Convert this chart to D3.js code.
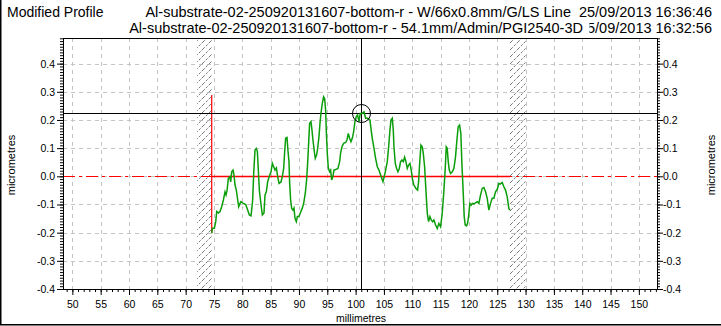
<!DOCTYPE html>
<html lang="en">
<head>
<meta charset="UTF-8">
<title>Modified Profile</title>
<style>
  body { margin: 0; background: #fff; overflow: hidden; }
  svg { display: block; font-family: Arial, "Liberation Sans", sans-serif; }
</style>
</head>
<body>
<svg id="chart" width="721" height="326"></svg>
<script src="https://d3js.org/d3.v7.min.js"></script>
<script>
// profile: [millimetres, micrometres]
const profile = [
  [74.60, -0.202], [74.72, -0.184], [75.07, -0.184], [75.31, -0.161], [75.48, -0.125],
  [75.78, -0.130], [76.07, -0.125], [76.36, -0.108], [76.66, -0.084], [76.95, -0.055],
  [77.13, -0.066], [77.31, -0.050], [77.54, -0.007], [77.78, -0.002], [77.95, -0.020],
  [78.13, 0.016], [78.36, 0.022], [78.54, 0.004], [78.72, -0.031], [78.95, -0.050],
  [79.19, -0.084], [79.36, -0.108], [79.60, -0.096], [79.77, -0.090], [80.18, -0.096],
  [80.60, -0.100], [80.95, -0.120], [81.24, -0.137], [81.54, -0.140], [81.83, -0.084],
  [82.01, 0.010], [82.24, 0.093], [82.48, 0.099], [82.66, 0.088], [82.83, 0.022],
  [83.01, -0.050], [83.30, -0.100], [83.54, -0.137], [83.83, -0.130], [84.01, -0.066],
  [84.24, -0.055], [84.48, -0.019], [84.77, 0.000], [85.07, 0.016], [85.30, 0.046],
  [85.54, 0.034], [85.78, 0.022], [86.01, 0.030], [86.24, 0.000], [86.48, -0.025],
  [86.83, -0.020], [87.07, 0.000], [87.30, 0.028], [87.48, 0.088], [87.65, 0.135],
  [87.89, 0.138], [88.06, 0.091], [88.24, 0.052], [88.36, -0.025], [88.53, -0.084],
  [88.71, -0.113], [88.94, -0.120], [89.12, -0.113], [89.30, -0.149], [89.53, -0.161],
  [89.71, -0.143], [90.00, -0.143], [90.24, -0.130], [90.59, -0.113], [90.83, -0.096],
  [91.12, -0.060], [91.35, -0.013], [91.53, 0.046], [91.71, 0.117], [91.88, 0.188],
  [92.12, 0.194], [92.30, 0.164], [92.47, 0.129], [92.71, 0.088], [92.88, 0.064],
  [93.12, 0.076], [93.30, 0.099], [93.53, 0.140], [93.71, 0.188], [93.88, 0.223],
  [94.12, 0.259], [94.35, 0.282], [94.53, 0.276], [94.71, 0.235], [94.82, 0.164],
  [95.00, 0.082], [95.18, 0.030], [95.41, 0.016], [95.59, 0.022], [95.77, -0.013],
  [96.00, 0.000], [96.18, 0.022], [96.47, 0.024], [96.88, 0.028], [97.18, 0.052],
  [97.35, 0.082], [97.59, 0.105], [97.88, 0.117], [98.24, 0.120], [98.47, 0.129],
  [98.71, 0.152], [98.94, 0.135], [99.18, 0.123], [99.41, 0.135], [99.65, 0.158],
  [99.88, 0.194], [100.12, 0.212], [100.35, 0.218], [100.59, 0.194], [100.82, 0.223],
  [101.12, 0.223], [101.47, 0.229], [101.77, 0.206], [102.12, 0.206], [102.53, 0.200],
  [102.71, 0.170], [102.94, 0.135], [103.24, 0.100], [103.53, 0.064], [103.83, 0.034],
  [104.12, 0.022], [104.41, 0.005], [104.83, -0.019], [105.06, 0.000], [105.30, 0.022],
  [105.59, 0.052], [105.83, 0.105], [106.06, 0.164], [106.24, 0.200], [106.47, 0.206],
  [106.65, 0.164], [106.77, 0.105], [107.00, 0.046], [107.24, 0.028], [107.47, 0.016],
  [107.71, 0.028], [107.94, 0.052], [108.18, 0.058], [108.41, 0.052], [108.65, 0.068],
  [108.88, 0.052], [109.12, 0.028], [109.35, 0.040], [109.59, 0.046], [109.82, 0.022],
  [110.06, -0.013], [110.29, -0.031], [110.65, -0.043], [110.94, -0.049], [111.12, -0.019],
  [111.29, 0.040], [111.53, 0.111], [111.76, 0.105], [111.94, 0.082], [112.18, 0.034],
  [112.41, -0.049], [112.65, -0.131], [112.88, -0.161], [113.12, -0.143], [113.35, -0.155],
  [113.59, -0.161], [113.82, -0.155], [114.12, -0.173], [114.41, -0.185], [114.70, -0.167],
  [115.00, -0.179], [115.29, -0.131], [115.59, -0.049], [115.82, 0.028], [116.00, 0.105],
  [116.17, 0.100], [116.35, 0.052], [116.53, 0.022], [116.76, 0.010], [117.06, 0.016],
  [117.35, 0.028], [117.64, 0.070], [117.88, 0.129], [118.11, 0.176], [118.35, 0.182],
  [118.58, 0.152], [118.76, 0.046], [119.00, -0.060], [119.17, -0.143], [119.35, -0.173],
  [119.58, -0.176], [119.76, -0.167], [119.94, -0.143], [120.17, -0.096], [120.41, -0.102],
  [120.64, -0.096], [120.88, -0.098], [121.17, -0.094], [121.47, -0.090], [121.76, -0.096],
  [122.05, -0.067], [122.35, -0.043], [122.64, -0.040], [122.94, -0.055], [123.23, -0.078],
  [123.52, -0.120], [123.82, -0.096], [124.11, -0.078], [124.41, -0.078], [124.70, -0.055],
  [124.99, -0.047], [125.29, -0.025], [125.58, -0.027], [125.88, -0.022], [126.17, -0.037],
  [126.46, -0.049], [126.76, -0.073], [127.05, -0.114], [127.23, -0.120]
];

const xTicks = [50, 55, 60, 65, 70, 75, 80, 85, 90, 95, 100, 105, 110, 115, 120, 125, 130, 135, 140, 145, 150];
const yTicks = [-0.4, -0.3, -0.2, -0.1, 0.0, 0.1, 0.2, 0.3, 0.4];
const excludedZones = [[72.0, 74.6], [127.2, 130.0]];
const cursor = [100.94, 0.224];

const titleText = "Modified Profile";
const headerLines = [
  { label: "Al-substrate-02-250920131607-bottom-r - W/66x0.8mm/G/LS Line", stamp: "25/09/2013 16:36:46", shift: -8, cover: false },
  { label: "Al-substrate-02-250920131607-bottom-r - 54.1mm/Admin/PGI2540-3D", stamp: "25/09/2013 16:32:56", shift: 4, cover: true }
];
const xTitle = "millimetres";
const yTitle = "micrometres";

const svg = d3.select("#chart");
const W = 721, H = 326;
const plot = { left: 63, right: 657, top: 38, bottom: 289 };
const font = "Arial, 'Liberation Sans', sans-serif";

const x = d3.scaleLinear().domain([48.35, 153.2]).range([plot.left, plot.right]);
const y = d3.scaleLinear().domain([-0.4, 0.491]).range([plot.bottom, plot.top]);

// outer frame: left and bottom edges
svg.append("path")
  .attr("d", `M0.75,0 V${H - 1.25} H${W}`)
  .attr("fill", "none").attr("stroke", "#000").attr("stroke-width", 1.5);

// hatch pattern for excluded zones
const defs = svg.append("defs");
const pat = defs.append("pattern")
  .attr("id", "hatch").attr("patternUnits", "userSpaceOnUse")
  .attr("width", 7).attr("height", 7);
pat.append("path")
  .attr("d", "M-1,1 l2,-2 M0,7 l7,-7 M6,8 l2,-2")
  .attr("stroke", "#777").attr("stroke-width", 1)
  .attr("stroke-dasharray", "2.5,1.5");

// grid
const grid = svg.append("g").attr("stroke", "#c4c4c4").attr("stroke-dasharray", "4,4");
grid.selectAll("line.gx").data(xTicks).join("line")
  .attr("x1", d => Math.round(x(d)) + 0.5).attr("x2", d => Math.round(x(d)) + 0.5)
  .attr("y1", plot.top).attr("y2", plot.bottom);
grid.selectAll("line.gy").data(yTicks).join("line")
  .attr("y1", d => Math.round(y(d)) + 0.5).attr("y2", d => Math.round(y(d)) + 0.5)
  .attr("x1", plot.left).attr("x2", plot.right);

// excluded zones
svg.append("g").selectAll("rect").data(excludedZones).join("rect")
  .attr("x", d => x(d[0])).attr("width", d => x(d[1]) - x(d[0]))
  .attr("y", plot.top).attr("height", plot.bottom - plot.top)
  .attr("fill", "url(#hatch)");

// zero reference line
const xStart = profile[0][0], xEnd = profile[profile.length - 1][0];
const y0 = Math.round(y(0)) + 0.5;
svg.append("line")
  .attr("x1", plot.left).attr("x2", plot.right).attr("y1", y0).attr("y2", y0)
  .attr("stroke", "red").attr("stroke-width", 1.2).attr("stroke-dasharray", "12,4,3,4");
svg.append("line")
  .attr("x1", x(xStart)).attr("x2", x(xEnd)).attr("y1", y0).attr("y2", y0)
  .attr("stroke", "red").attr("stroke-width", 1.5);

// range marker at the profile start
const [yMin, yMax] = d3.extent(profile, d => d[1]);
svg.append("line")
  .attr("x1", x(xStart)).attr("x2", x(xStart))
  .attr("y1", y(yMax) - 2).attr("y2", y(yMin))
  .attr("stroke", "red").attr("stroke-width", 1.2);

// cursor cross
const cx = Math.round(x(cursor[0])) + 0.5, cy = Math.round(y(cursor[1])) + 0.5;
svg.append("line").attr("x1", plot.left).attr("x2", plot.right).attr("y1", cy).attr("y2", cy)
  .attr("stroke", "#000");
svg.append("line").attr("x1", cx).attr("x2", cx).attr("y1", plot.top).attr("y2", plot.bottom)
  .attr("stroke", "#000");

// profile
const line = d3.line().x(d => x(d[0])).y(d => y(d[1]));
svg.append("path").datum(profile)
  .attr("d", line)
  .attr("fill", "none").attr("stroke", "#0a9e0a").attr("stroke-width", 1.5)
  .attr("stroke-linejoin", "miter");

svg.append("circle").attr("cx", cx).attr("cy", cy).attr("r", 9)
  .attr("fill", "none").attr("stroke", "#000");

// plot frame
svg.append("rect")
  .attr("x", plot.left + 0.5).attr("y", plot.top + 0.5)
  .attr("width", plot.right - plot.left).attr("height", plot.bottom - plot.top)
  .attr("fill", "none").attr("stroke", "#000");

// axes
const fmt = d => d.toFixed(1);
const xMinor = d3.range(49, 154);
const yMinor = d3.range(-40, 50).map(i => i / 100);

function styleAxis(g) {
  g.select(".domain").remove();
  g.attr("font-family", font).attr("font-size", 10.5);
  g.selectAll("text").attr("fill", "#000");
}

svg.append("g").attr("transform", `translate(0,${plot.bottom})`)
  .call(d3.axisBottom(x).tickValues(xMinor).tickSize(3).tickFormat(""))
  .call(styleAxis);
svg.append("g").attr("transform", `translate(0,${plot.bottom})`)
  .call(d3.axisBottom(x).tickValues(xTicks).tickSize(6).tickPadding(6).tickFormat(d3.format("d")))
  .call(styleAxis);

svg.append("g").attr("transform", `translate(${plot.left},0)`)
  .call(d3.axisLeft(y).tickValues(yMinor).tickSize(3).tickFormat(""))
  .call(styleAxis);
svg.append("g").attr("transform", `translate(${plot.left},0)`)
  .call(d3.axisLeft(y).tickValues(yTicks).tickSize(6).tickPadding(2).tickFormat(fmt))
  .call(styleAxis);

svg.append("g").attr("transform", `translate(${plot.right},0)`)
  .call(d3.axisRight(y).tickValues(yMinor).tickSize(3).tickFormat(""))
  .call(styleAxis);
svg.append("g").attr("transform", `translate(${plot.right},0)`)
  .call(d3.axisRight(y).tickValues(yTicks).tickSize(6).tickPadding(0).tickFormat(fmt))
  .call(styleAxis);

// axis titles
svg.append("text").attr("x", 361).attr("y", 322).attr("text-anchor", "middle")
  .attr("font-size", 10.5).text(xTitle);
[11, 711].forEach(tx => {
  svg.append("text")
    .attr("transform", `translate(${tx + 4},165) rotate(-90)`)
    .attr("text-anchor", "middle").attr("font-size", 11).text(yTitle);
});

// header
const header = svg.append("g").attr("font-size", 14.5).attr("fill", "#000");
header.append("text").attr("x", 7).attr("y", 17).attr("font-size", 14).text(titleText);
headerLines.forEach((h, i) => {
  const yb = 17 + i * 15.5;
  const stamp = header.append("text").attr("x", 712).attr("y", yb)
    .attr("text-anchor", "end").text(h.stamp);
  const ds = 712 - stamp.node().getComputedTextLength();
  const lbl = header.append("text").attr("x", ds + h.shift).attr("y", yb)
    .attr("text-anchor", "end").text(h.label);
  if (h.cover) {
    const bb = lbl.node().getBBox();
    header.insert("rect", () => lbl.node())
      .attr("x", bb.x - 2).attr("y", yb - 12)
      .attr("width", ds + 10.5 - bb.x + 2).attr("height", 16)
      .attr("fill", "#fff");
  }
});
</script>
</body>
</html>
